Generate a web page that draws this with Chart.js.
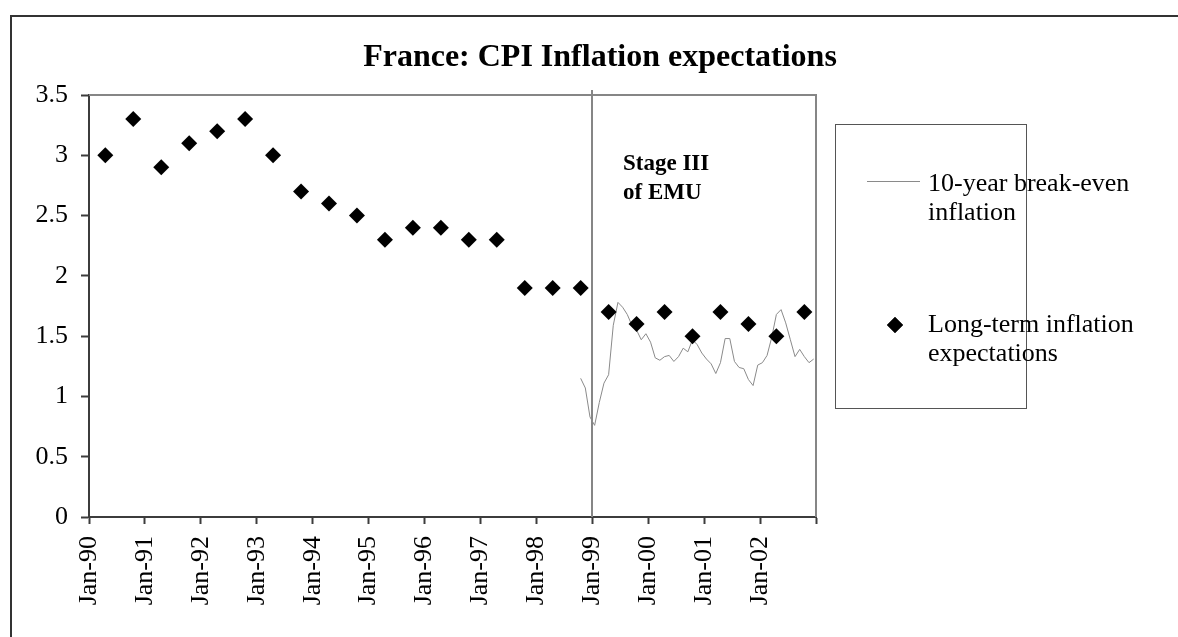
<!DOCTYPE html>
<html>
<head>
<meta charset="utf-8">
<script src="https://cdn.jsdelivr.net/npm/chart.js@4.4.0/dist/chart.umd.min.js"></script>
<style>
  body { margin: 0; background: #fff; }
</style>
</head>
<body>
<canvas id="myChart" width="1178" height="637"></canvas>
<script>
// long-term inflation expectations, twice a year
var expectDates = ['Apr-90', 'Oct-90', 'Apr-91', 'Oct-91', 'Apr-92', 'Oct-92', 'Apr-93', 'Oct-93',
  'Apr-94', 'Oct-94', 'Apr-95', 'Oct-95', 'Apr-96', 'Oct-96', 'Apr-97', 'Oct-97',
  'Apr-98', 'Oct-98', 'Apr-99', 'Oct-99', 'Apr-00', 'Oct-00', 'Apr-01', 'Oct-01', 'Apr-02', 'Oct-02'];
var expectValues = [3.0, 3.3, 2.9, 3.1, 3.2, 3.3, 3.0, 2.7,
  2.6, 2.5, 2.3, 2.4, 2.4, 2.3, 2.3, 1.9,
  1.9, 1.9, 1.7, 1.6, 1.7, 1.5, 1.7, 1.6, 1.5, 1.7];

// 10-year break-even inflation, monthly from Oct-98 to Dec-02
var breakEvenStart = 'Oct-98';
var breakEvenValues = [1.15, 1.07, 0.83, 0.76, 0.95, 1.11, 1.18, 1.59, 1.78, 1.74, 1.68, 1.59,
  1.55, 1.47, 1.52, 1.45, 1.32, 1.30, 1.33, 1.34, 1.29, 1.33, 1.40, 1.37,
  1.47, 1.43, 1.36, 1.31, 1.27, 1.19, 1.28, 1.48, 1.48, 1.29, 1.24, 1.23,
  1.14, 1.09, 1.26, 1.28, 1.34, 1.49, 1.68, 1.72, 1.61, 1.47, 1.33, 1.39,
  1.33, 1.28, 1.31];

var xTickYears = ['90', '91', '92', '93', '94', '95', '96', '97', '98', '99', '00', '01', '02', ''];
var emuDate = 'Jan-99';
var titleText = 'France: CPI Inflation expectations';
var seriesNames = [['10-year break-even', 'inflation'], ['Long-term inflation', 'expectations']];

var MONTHS = ['Jan', 'Feb', 'Mar', 'Apr', 'May', 'Jun', 'Jul', 'Aug', 'Sep', 'Oct', 'Nov', 'Dec'];
var FONT = "'Liberation Serif', 'Times New Roman', serif";

// months since Jan-90
function monthIndex(s) {
  var p = s.split('-');
  var yy = parseInt(p[1], 10);
  var year = yy < 50 ? 2000 + yy : 1900 + yy;
  return (year - 1990) * 12 + MONTHS.indexOf(p[0]);
}

var expectPoints = [];
for (var i = 0; i < expectDates.length; i++) {
  expectPoints.push({ x: monthIndex(expectDates[i]) + 0.5, y: expectValues[i] });
}
var breakEvenPoints = [];
var m0 = monthIndex(breakEvenStart);
for (var j = 0; j < breakEvenValues.length; j++) {
  breakEvenPoints.push({ x: m0 + j + 0.5, y: breakEvenValues[j] });
}

var extras = {
  id: 'extras',
  beforeDatasetsDraw: function(chart) {
    var ctx = chart.ctx;
    var a = chart.chartArea;
    var xs = chart.scales.x;
    ctx.save();
    // plot frame, top and right
    ctx.strokeStyle = '#868686';
    ctx.lineWidth = 2;
    ctx.beginPath();
    ctx.moveTo(a.left, a.top);
    ctx.lineTo(a.right, a.top);
    ctx.lineTo(a.right, a.bottom);
    ctx.stroke();
    // Stage III marker
    var ex = Math.round(xs.getPixelForValue(monthIndex(emuDate)));
    ctx.beginPath();
    ctx.moveTo(ex, a.top - 5);
    ctx.lineTo(ex, a.bottom);
    ctx.stroke();
    ctx.fillStyle = '#000';
    ctx.font = 'bold 23px ' + FONT;
    ctx.textAlign = 'left';
    ctx.textBaseline = 'alphabetic';
    ctx.fillText('Stage III', ex + 31, 170);
    ctx.fillText('of EMU', ex + 31, 199);
    ctx.restore();
  },
  afterDraw: function(chart) {
    var ctx = chart.ctx;
    ctx.save();
    // outer frame
    ctx.strokeStyle = '#333';
    ctx.lineWidth = 2;
    ctx.beginPath();
    ctx.moveTo(11, 637);
    ctx.lineTo(11, 16);
    ctx.lineTo(1178, 16);
    ctx.stroke();
    // title
    ctx.fillStyle = '#000';
    ctx.font = 'bold 32px ' + FONT;
    ctx.textAlign = 'center';
    ctx.textBaseline = 'alphabetic';
    ctx.fillText(titleText, 600, 66);
    // legend box
    ctx.strokeStyle = '#555';
    ctx.lineWidth = 1;
    ctx.strokeRect(835.5, 124.5, 191, 284);
    ctx.font = '26px ' + FONT;
    ctx.textAlign = 'left';
    var ds0 = chart.data.datasets[0];
    ctx.strokeStyle = ds0.borderColor;
    ctx.lineWidth = ds0.borderWidth;
    ctx.beginPath();
    ctx.moveTo(867, 181.5);
    ctx.lineTo(920, 181.5);
    ctx.stroke();
    ctx.fillText(seriesNames[0][0], 928, 191);
    ctx.fillText(seriesNames[0][1], 928, 220);
    var ds1 = chart.data.datasets[1];
    Chart.helpers.drawPoint(ctx, {
      pointStyle: ds1.pointStyle, radius: 8, rotation: 0, borderWidth: 0
    }, 895, 325);
    ctx.fillStyle = ds1.backgroundColor;
    ctx.fill();
    ctx.fillStyle = '#000';
    ctx.fillText(seriesNames[1][0], 928, 332);
    ctx.fillText(seriesNames[1][1], 928, 361);
    ctx.restore();
  }
};

var ctx = document.getElementById('myChart').getContext('2d');
var myChart = new Chart(ctx, {
  type: 'scatter',
  data: {
    datasets: [
      {
        label: '10-year break-even inflation',
        data: breakEvenPoints,
        showLine: true,
        borderColor: '#8a8a8a',
        borderWidth: 1,
        pointRadius: 0,
        order: 2
      },
      {
        label: 'Long-term inflation expectations',
        data: expectPoints,
        pointStyle: 'rectRot',
        pointRadius: 8,
        pointHoverRadius: 8,
        backgroundColor: '#000',
        borderColor: '#000',
        borderWidth: 0,
        order: 1
      }
    ]
  },
  options: {
    responsive: false,
    animation: false,
    layout: { padding: { left: 0, right: 362, top: 95, bottom: 0 } },
    plugins: {
      legend: { display: false },
      title: { display: false },
      tooltip: { enabled: false }
    },
    scales: {
      x: {
        type: 'linear',
        min: 0,
        max: 156,
        afterFit: function(s) { s.height = 120; },
        border: { color: '#3c3c3c', width: 2 },
        grid: { drawOnChartArea: false, tickLength: 7, tickColor: '#3c3c3c', tickWidth: 2 },
        ticks: {
          stepSize: 12,
          autoSkip: false,
          minRotation: 90,
          maxRotation: 90,
          padding: 12,
          color: '#000',
          font: { family: FONT, size: 26 },
          callback: function(v) {
            var t = xTickYears[Math.round(v / 12)];
            return t ? 'Jan-' + t : '';
          }
        }
      },
      y: {
        min: 0,
        max: 3.5,
        afterFit: function(s) { s.width = 89; },
        border: { color: '#3c3c3c', width: 2 },
        grid: { drawOnChartArea: false, tickLength: 8, tickColor: '#3c3c3c', tickWidth: 2 },
        ticks: {
          stepSize: 0.5,
          padding: 13,
          color: '#000',
          font: { family: FONT, size: 26 },
          callback: function(v) { return String(v); }
        }
      }
    }
  },
  plugins: [extras]
});
</script>
</body>
</html>
